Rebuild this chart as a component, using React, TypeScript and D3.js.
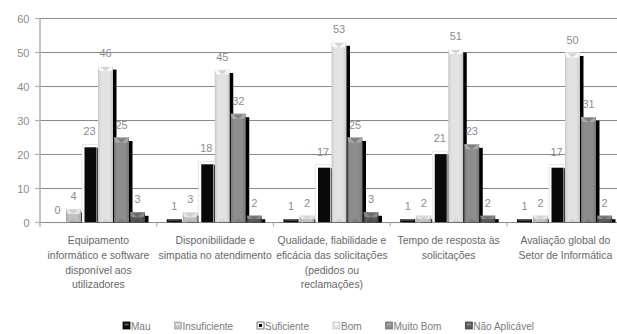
import React, { useEffect, useRef } from "react";
import * as d3 from "d3";

// Survey ratings per service area
const categories = [
  "Equipamento informático e software disponível aos utilizadores",
  "Disponibilidade e simpatia no atendimento",
  "Qualidade, fiabilidade e eficácia das solicitações (pedidos ou reclamações)",
  "Tempo de resposta às solicitações",
  "Avaliação global do Setor de Informática",
];
const categoryLines = [
  ["Equipamento", "informático e software", "disponível aos", "utilizadores"],
  ["Disponibilidade e", "simpatia no atendimento"],
  ["Qualidade, fiabilidade e", "eficácia das solicitações", "(pedidos ou", "reclamações)"],
  ["Tempo de resposta às", "solicitações"],
  ["Avaliação global do", "Setor de Informática"],
];
const seriesNames = ["Mau", "Insuficiente", "Suficiente", "Bom", "Muito Bom", "Não Aplicável"];
const mau = [0, 1, 1, 1, 1];
const insuficiente = [4, 3, 2, 2, 2];
const suficiente = [23, 18, 17, 21, 17];
const bom = [46, 45, 53, 51, 50];
const muitoBom = [25, 32, 25, 23, 31];
const naoAplicavel = [3, 2, 3, 2, 2];
const seriesValues = [mau, insuficiente, suficiente, bom, muitoBom, naoAplicavel];
const yTicks = [0, 10, 20, 30, 40, 50, 60];

const W = 617;
const H = 334;
const FONT = "'Liberation Sans', Arial, sans-serif";

// body / edge / bevel colours for each series
const palette = [
  { body: "#0b0b0b", edge: "#000000", top: "#5a5a5a", v: "#3a3a3a" },
  { body: "#c2c2c2", edge: "#a8a8a8", top: "#e6e6e6", v: "#cfcfcf" },
  { body: "#0b0b0b", edge: "#000000", top: "#ffffff", v: "#ffffff" },
  { body: "#e2e2e2", edge: "#c9c9c9", top: "#fafafa", v: "#d4d4d4" },
  { body: "#8d8d8d", edge: "#767676", top: "#a8a8a8", v: "#7e7e7e" },
  { body: "#5a5a5a", edge: "#444444", top: "#8a8a8a", v: "#6a6a6a" },
];

export default function App() {
  const ref = useRef<SVGSVGElement | null>(null);

  useEffect(() => {
    const svg = d3.select(ref.current);
    svg.selectAll("*").remove();

    const left = 40;
    const bandW = 116.75;
    const x0 = d3
      .scaleBand<string>()
      .domain(categories)
      .range([left, left + bandW * categories.length])
      .padding(0);
    const x1 = d3
      .scaleBand<string>()
      .domain(seriesNames)
      .range([10, 106])
      .padding(0);
    const y = d3.scaleLinear().domain([0, 60]).range([222.5, 18.5]);
    const base = y(0);
    const barW = 15;

    const defs = svg.append("defs");
    palette.forEach((p, i) => {
      const g = defs
        .append("linearGradient")
        .attr("id", `grad${i}`)
        .attr("x1", "0")
        .attr("x2", "1")
        .attr("y1", "0")
        .attr("y2", "0");
      g.append("stop").attr("offset", "0").attr("stop-color", p.edge);
      g.append("stop").attr("offset", "0.2").attr("stop-color", p.body);
      g.append("stop").attr("offset", "0.75").attr("stop-color", p.body);
      g.append("stop").attr("offset", "1").attr("stop-color", p.edge);
    });
    defs
      .append("clipPath")
      .attr("id", "plotClip")
      .append("rect")
      .attr("x", 0)
      .attr("y", 0)
      .attr("width", W)
      .attr("height", base);

    // gridlines
    const grid = svg.append("g");
    yTicks.forEach((t) => {
      grid
        .append("line")
        .attr("x1", left)
        .attr("x2", W)
        .attr("y1", y(t))
        .attr("y2", y(t))
        .attr("stroke", "#8a8a8a")
        .attr("stroke-width", 1);
      grid
        .append("line")
        .attr("x1", left - 5)
        .attr("x2", left)
        .attr("y1", y(t))
        .attr("y2", y(t))
        .attr("stroke", "#b0b0b0")
        .attr("stroke-width", 1.2);
      grid
        .append("text")
        .attr("x", 29.5)
        .attr("y", y(t) + 4)
        .attr("text-anchor", "end")
        .attr("font-family", FONT)
        .attr("font-size", 11)
        .attr("fill", "#8c8c8c")
        .text(t);
    });
    grid
      .append("line")
      .attr("x1", left)
      .attr("x2", left)
      .attr("y1", y(60))
      .attr("y2", base + 4)
      .attr("stroke", "#b0b0b0")
      .attr("stroke-width", 1.5);
    categories.forEach((c, i) => {
      if (i === 0) return;
      const bx = x0(c)!;
      grid
        .append("line")
        .attr("x1", bx)
        .attr("x2", bx)
        .attr("y1", base)
        .attr("y2", base + 4)
        .attr("stroke", "#b0b0b0")
        .attr("stroke-width", 1.2);
    });

    // bars
    const bars = svg.append("g").attr("clip-path", "url(#plotClip)");
    categories.forEach((c, ci) => {
      seriesNames.forEach((s, si) => {
        const v = seriesValues[si][ci];
        const x = x0(c)! + x1(s)!;
        const top = y(v);
        const h = base - top;
        const p = palette[si];
        const g = bars.append("g");
        if (h <= 0) return;
        // drop shadow
        g.append("rect")
          .attr("x", x + 3.5)
          .attr("y", top + 3.5)
          .attr("width", barW)
          .attr("height", Math.max(0, h))
          .attr("fill", "#000");
        if (si === 2) {
          // framed bar: white border around a black core
          g.append("rect")
            .attr("x", x)
            .attr("y", top)
            .attr("width", barW)
            .attr("height", h)
            .attr("fill", "#ffffff")
            .attr("stroke", "#d8d8d8")
            .attr("stroke-width", 0.6);
          g.append("rect")
            .attr("x", x + 2.5)
            .attr("y", top + 3)
            .attr("width", barW - 3)
            .attr("height", Math.max(0, h - 3))
            .attr("fill", "#0a0a0a");
          return;
        }
        g.append("rect")
          .attr("x", x)
          .attr("y", top)
          .attr("width", barW)
          .attr("height", h)
          .attr("fill", `url(#grad${si})`);
        const b = Math.min(5, h / 2);
        // top bevel
        g.append("polygon")
          .attr(
            "points",
            [
              [x, top],
              [x + barW, top],
              [x + barW - 1.5, top + b],
              [x + 1.5, top + b],
            ]
              .map((pt) => pt.join(","))
              .join(" ")
          )
          .attr("fill", p.top);
        g.append("polygon")
          .attr(
            "points",
            [
              [x + 2.5, top + 0.8],
              [x + barW - 2.5, top + 0.8],
              [x + barW / 2, top + b],
            ]
              .map((pt) => pt.join(","))
              .join(" ")
          )
          .attr("fill", p.v);
        // bottom bevel
        if (h > 10) {
          g.append("polygon")
            .attr(
              "points",
              [
                [x + 2.5, base - 0.5],
                [x + barW - 2.5, base - 0.5],
                [x + barW / 2, base - 4],
              ]
                .map((pt) => pt.join(","))
                .join(" ")
            )
            .attr("fill", p.edge)
            .attr("opacity", 0.6);
        }
      });
    });

    // value labels
    const labels = svg.append("g");
    categories.forEach((c, ci) => {
      seriesNames.forEach((s, si) => {
        const v = seriesValues[si][ci];
        const cx = x0(c)! + x1(s)! + barW / 2;
        labels
          .append("text")
          .attr("x", cx)
          .attr("y", y(v) - 9)
          .attr("text-anchor", "middle")
          .attr("font-family", FONT)
          .attr("font-size", 11)
          .attr("fill", "#8c8c8c")
          .text(v);
      });
    });

    // category labels
    const cats = svg.append("g");
    categories.forEach((c, ci) => {
      const cx = x0(c)! + x0.bandwidth() / 2;
      const t = cats
        .append("text")
        .attr("text-anchor", "middle")
        .attr("font-family", FONT)
        .attr("font-size", 10.4)
        .attr("fill", "#676767");
      categoryLines[ci].forEach((line, li) => {
        t.append("tspan")
          .attr("x", cx)
          .attr("y", 244 + li * 14.8)
          .text(line);
      });
    });

    // legend
    const legend = svg.append("g");
    let lx = 123;
    const ly = 322;
    seriesNames.forEach((s, si) => {
      const p = palette[si];
      if (si === 2) {
        legend
          .append("rect")
          .attr("x", lx)
          .attr("y", ly)
          .attr("width", 7)
          .attr("height", 7)
          .attr("fill", "#fff")
          .attr("stroke", "#555")
          .attr("stroke-width", 0.8);
        legend
          .append("rect")
          .attr("x", lx + 2)
          .attr("y", ly + 2)
          .attr("width", 3)
          .attr("height", 3)
          .attr("fill", "#000");
      } else {
        legend
          .append("rect")
          .attr("x", lx)
          .attr("y", ly)
          .attr("width", 7)
          .attr("height", 7)
          .attr("fill", p.body)
          .attr("stroke", si === 0 ? "#000" : p.edge)
          .attr("stroke-width", 0.8);
        legend
          .append("rect")
          .attr("x", lx + 1.5)
          .attr("y", ly + 1.5)
          .attr("width", 4)
          .attr("height", 2)
          .attr("fill", p.top);
      }
      const txt = legend
        .append("text")
        .attr("x", lx + 8)
        .attr("y", ly + 7.5)
        .attr("font-family", FONT)
        .attr("font-size", 10)
        .attr("fill", "#7a7a7a")
        .text(s);
      const tw = (txt.node() as SVGTextElement).getComputedTextLength();
      lx += 8 + tw + 24;
    });
  }, []);

  return (
    <svg
      ref={ref}
      width={W}
      height={H}
      style={{ position: "absolute", left: 0, top: 0, background: "#fff" }}
    />
  );
}
